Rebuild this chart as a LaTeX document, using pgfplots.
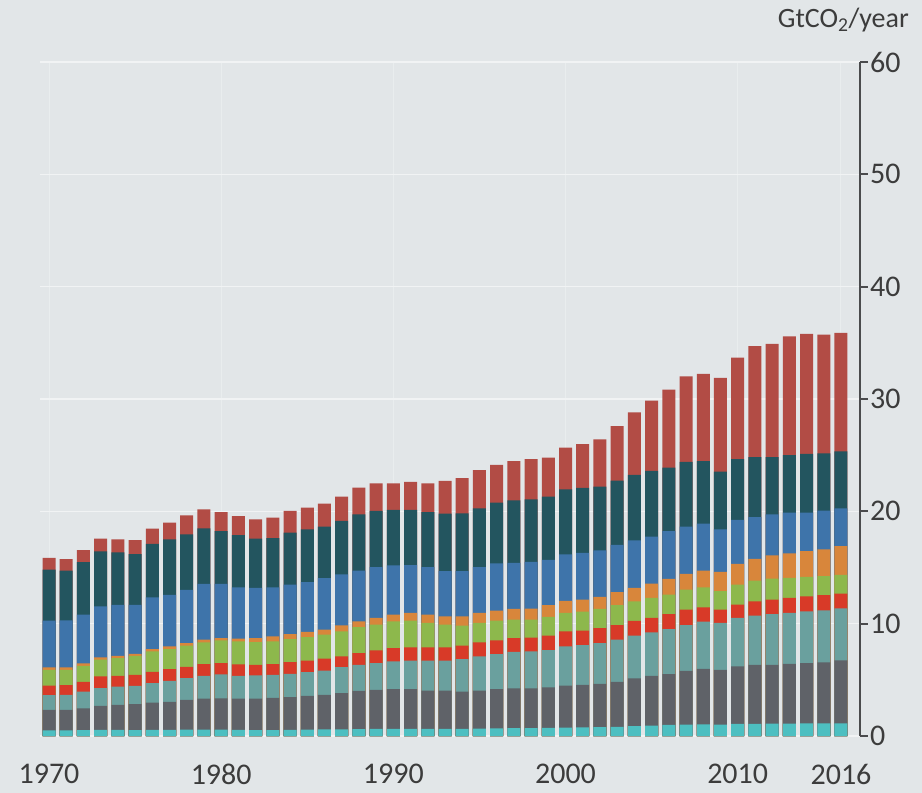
\documentclass[border=0pt]{standalone}
\usepackage{fontspec}
\setmainfont{Carlito}
\usepackage{pgfplots}
\usepackage{pgfplotstable}
\pgfplotsset{compat=1.18}
\definecolor{bg}{HTML}{E2E6E8}
\definecolor{gridc}{HTML}{F1F3F4}
\definecolor{vgridc}{HTML}{E9EDEE}
\definecolor{axc}{HTML}{4A4B4D}
\definecolor{txt}{HTML}{3C3C3C}
\definecolor{ccy}{HTML}{4DBFC1}
\definecolor{cdg}{HTML}{5F6268}
\definecolor{ctg}{HTML}{6AA09E}
\definecolor{crd}{HTML}{D83A28}
\definecolor{cgr}{HTML}{8DB84C}
\definecolor{cor}{HTML}{D8863B}
\definecolor{cbl}{HTML}{3E74AA}
\definecolor{cdt}{HTML}{23555F}
\definecolor{cbr}{HTML}{B24C45}
% cumulative tops of each layer (GtCO2/year)
\pgfplotstableread{
year cy dg tg rd gr or bl dt tot
1970 0.50 2.32 3.63 4.49 5.89 6.10 10.27 14.82 15.86
1971 0.50 2.32 3.66 4.52 5.89 6.10 10.30 14.73 15.74
1972 0.52 2.47 3.96 4.82 6.25 6.46 10.80 15.48 16.55
1973 0.55 2.68 4.26 5.30 6.79 6.99 11.55 16.43 17.56
1974 0.54 2.77 4.40 5.36 6.93 7.14 11.67 16.34 17.50
1975 0.53 2.83 4.46 5.45 7.14 7.32 11.67 16.20 17.44
1976 0.54 2.98 4.70 5.71 7.53 7.74 12.35 17.11 18.45
1977 0.55 3.04 4.91 5.95 7.74 7.98 12.56 17.50 18.99
1978 0.56 3.21 5.15 6.16 8.04 8.27 13.01 17.95 19.64
1979 0.57 3.33 5.36 6.40 8.33 8.57 13.54 18.48 20.18
1980 0.56 3.36 5.48 6.49 8.51 8.72 13.54 18.24 19.94
1981 0.55 3.33 5.36 6.37 8.42 8.66 13.24 17.88 19.58
1982 0.52 3.33 5.39 6.34 8.36 8.72 13.18 17.56 19.29
1983 0.52 3.39 5.45 6.40 8.42 8.87 13.24 17.62 19.43
1984 0.54 3.45 5.54 6.58 8.63 9.08 13.48 18.10 20.03
1985 0.56 3.57 5.68 6.70 8.81 9.26 13.69 18.39 20.33
1986 0.58 3.66 5.83 6.88 9.02 9.46 14.05 18.63 20.68
1987 0.60 3.81 6.13 7.08 9.32 9.85 14.38 19.14 21.31
1988 0.62 4.02 6.34 7.38 9.70 10.21 14.73 19.73 22.11
1989 0.64 4.11 6.49 7.62 9.91 10.51 15.03 20.03 22.50
1990 0.64 4.17 6.64 7.83 10.21 10.80 15.18 20.12 22.50
1991 0.64 4.17 6.70 7.89 10.27 10.95 15.21 20.12 22.62
1992 0.63 4.05 6.70 7.89 10.06 10.80 15.03 19.94 22.50
1993 0.63 4.05 6.70 7.89 9.91 10.65 14.67 19.79 22.71
1994 0.63 3.96 6.85 8.04 9.82 10.65 14.67 19.82 22.95
1995 0.66 4.05 7.08 8.33 10.06 10.95 15.03 20.27 23.66
1996 0.68 4.17 7.29 8.51 10.27 11.16 15.36 20.77 24.14
1997 0.70 4.23 7.50 8.72 10.36 11.31 15.42 20.98 24.46
1998 0.70 4.23 7.53 8.75 10.36 11.34 15.51 21.07 24.64
1999 0.72 4.32 7.65 8.93 10.60 11.64 15.68 21.31 24.79
2000 0.75 4.49 7.98 9.32 10.95 12.02 16.16 21.96 25.68
2001 0.76 4.55 8.10 9.38 11.07 12.14 16.31 22.08 25.98
2002 0.78 4.64 8.27 9.61 11.31 12.38 16.52 22.20 26.40
2003 0.82 4.82 8.57 9.88 11.64 12.80 17.02 22.74 27.59
2004 0.88 5.12 8.93 10.24 11.99 13.18 17.41 23.24 28.81
2005 0.93 5.36 9.23 10.51 12.29 13.57 17.74 23.60 29.85
2006 0.98 5.51 9.52 10.86 12.59 13.99 18.24 23.90 30.83
2007 1.02 5.80 9.88 11.25 13.04 14.43 18.63 24.40 32.02
2008 1.04 5.98 10.18 11.46 13.24 14.73 18.90 24.46 32.23
2009 1.02 5.89 10.06 11.25 12.89 14.61 18.39 23.54 31.88
2010 1.07 6.19 10.51 11.70 13.48 15.33 19.23 24.64 33.69
2011 1.09 6.34 10.71 11.99 13.84 15.77 19.49 24.82 34.70
2012 1.10 6.34 10.86 12.14 14.02 16.07 19.73 24.82 34.91
2013 1.11 6.43 10.95 12.29 14.08 16.25 19.88 25.00 35.57
2014 1.12 6.49 11.10 12.44 14.17 16.46 19.88 25.12 35.80
2015 1.12 6.55 11.19 12.53 14.23 16.61 20.06 25.15 35.74
2016 1.13 6.73 11.37 12.68 14.35 16.90 20.27 25.33 35.89
}\data
\begin{document}
\begin{tikzpicture}
\fill[bg] (0,0) rectangle (922pt,793pt);
\useasboundingbox (0,0) rectangle (922pt,793pt);
\begin{axis}[
  at={(40pt,57pt)}, anchor=south west,
  scale only axis, width=820pt, height=674pt,
  xmin=1969.477, xmax=2017.104, ymin=0, ymax=60,
  axis y line*=right, axis x line*=bottom,
  x axis line style={draw=none},
  y axis line style={draw=axc, line width=2.2pt},
  ytick={0,10,20,30,40,50,60},
  xtick={1970,1980,1990,2000,2010,2016},
  xticklabels={1970,1980,1990,2000,2010,2016},
  xtick style={draw=none},
  ytick style={draw=axc, line width=2.2pt},
  tick align=outside, major tick length=8pt,
  ymajorgrids, xmajorgrids,
  y grid style={draw=gridc, line width=1.6pt},
  x grid style={draw=vgridc, line width=1pt},
  /pgf/number format/assume math mode=true,
  tick label style={font=\fontsize{30}{34}\selectfont, text=txt},
  xticklabel style={anchor=north, inner sep=0pt, yshift=-20pt},
  yticklabel style={anchor=west, inner sep=0pt, xshift=2pt},
  ybar, bar width=13pt, bar shift=0pt,
  every axis plot/.append style={draw=none},
]
\addplot[fill=cbr] table[x=year,y=tot]{\data};
\addplot[fill=cdt] table[x=year,y=dt]{\data};
\addplot[fill=cbl] table[x=year,y=bl]{\data};
\addplot[fill=cor] table[x=year,y=or]{\data};
\addplot[fill=cgr] table[x=year,y=gr]{\data};
\addplot[fill=crd] table[x=year,y=rd]{\data};
\addplot[fill=ctg] table[x=year,y=tg]{\data};
\addplot[fill=cdg] table[x=year,y=dg]{\data};
\addplot[fill=ccy] table[x=year,y=cy]{\data};
\end{axis}
\node[anchor=east, inner sep=0pt, font=\fontsize{28}{32}\selectfont, text=txt] at (909pt,773pt) {GtCO\textsubscript{2}/year};
\end{tikzpicture}
\end{document}
